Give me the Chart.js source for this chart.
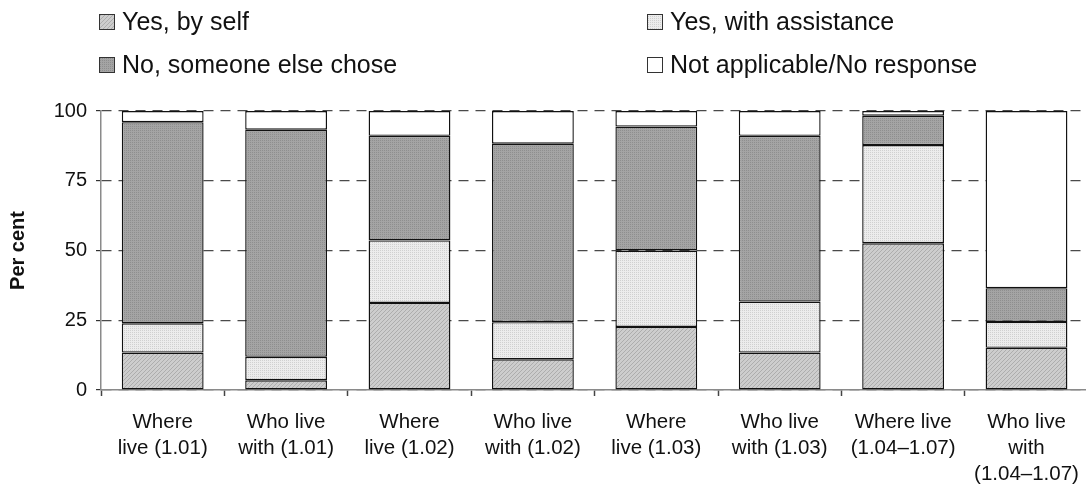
<!DOCTYPE html>
<html>
<head>
<meta charset="utf-8">
<script src="https://cdn.jsdelivr.net/npm/chart.js@4.4.1/dist/chart.umd.min.js"></script>
<style>
  html, body { margin: 0; padding: 0; background: #fff; overflow: hidden; }
  #wrap { width: 1092px; height: 485px; }
</style>
</head>
<body>
<div id="wrap"><canvas id="chart" width="1092" height="485"></canvas></div>
<script>
// Categories: each pair of bars is "where to live" and "who to live with" for one wave
const categories = [
  ['Where', 'live (1.01)'],
  ['Who live', 'with (1.01)'],
  ['Where', 'live (1.02)'],
  ['Who live', 'with (1.02)'],
  ['Where', 'live (1.03)'],
  ['Who live', 'with (1.03)'],
  ['Where live', '(1.04\u20131.07)'],
  ['Who live', 'with', '(1.04\u20131.07)']
];

// Per cent of respondents in each response group
const yesBySelf         = [13.4, 3.5, 31.2, 11.0, 22.6, 13.4, 52.6, 15.1];
const yesWithAssistance = [10.5, 8.4, 22.4, 13.3, 27.4, 18.3, 35.2,  9.3];
const noSomeoneElse     = [72.1, 81.4, 37.5, 64.0, 44.4, 59.4, 10.5, 12.1];
const notApplicable     = [ 4.0, 6.7,  8.9, 11.7,  5.6,  8.9,  1.7, 63.5];

const seriesNames = ['Yes, by self', 'Yes, with assistance', 'No, someone else chose', 'Not applicable/No response'];
const yTicks = [0, 25, 50, 75, 100];

const FONT = "'Liberation Sans', Arial, Helvetica, sans-serif";

// Small repeating tiles give the bars their fine print-style textures
function makePattern(base, ink, dots) {
  const c = document.createElement('canvas');
  c.width = 4; c.height = 4;
  const g = c.getContext('2d');
  g.fillStyle = base;
  g.fillRect(0, 0, 4, 4);
  g.fillStyle = ink;
  dots.forEach(([x, y]) => g.fillRect(x, y, 1, 1));
  return g.createPattern(c, 'repeat');
}
const hatchBySelf = makePattern('#cdcdcd', '#adadad', [[0, 3], [1, 2], [2, 1], [3, 0]]);
const dotsAssist  = makePattern('#ececec', '#d0d0d0', [[0, 0], [2, 0], [0, 2], [2, 2]]);
const dotsNo      = makePattern('#a4a4a4', '#8e8e8e', [[0, 0], [2, 0], [0, 2], [2, 2]]);

const BORDER = '#111111';

function series(label, data, fill) {
  return {
    label, data,
    backgroundColor: fill,
    borderColor: BORDER,
    borderWidth: 1.4,
    borderSkipped: false,
    inflateAmount: 0,
    barPercentage: 0.663,
    categoryPercentage: 1.0
  };
}

// Two-column legend drawn above the plot area
const gridLegend = {
  id: 'gridLegend',
  afterDraw(chart) {
    const ctx = chart.ctx;
    const slots = [[99, 14], [647, 14], [99, 57], [647, 57]];
    ctx.save();
    chart.data.datasets.forEach((ds, i) => {
      const [bx, by] = slots[i];
      ctx.fillStyle = ds.backgroundColor;
      ctx.fillRect(bx, by, 16, 16);
      ctx.lineWidth = 1;
      ctx.strokeStyle = '#333';
      ctx.strokeRect(bx + 0.5, by + 0.5, 15, 15);
      ctx.fillStyle = '#111';
      ctx.font = '25px ' + FONT;
      ctx.textAlign = 'left';
      ctx.textBaseline = 'middle';
      ctx.fillText(ds.label, bx + 23, by + 9);
    });
    ctx.restore();
  }
};

new Chart(document.getElementById('chart'), {
  type: 'bar',
  data: {
    labels: categories,
    datasets: [
      series(seriesNames[0], yesBySelf, hatchBySelf),
      series(seriesNames[1], yesWithAssistance, dotsAssist),
      series(seriesNames[2], noSomeoneElse, dotsNo),
      series(seriesNames[3], notApplicable, '#ffffff')
    ]
  },
  options: {
    responsive: false,
    animation: false,
    devicePixelRatio: 1,
    layout: { padding: { top: 111, right: 1, bottom: 0, left: 0 } },
    plugins: {
      legend: { display: false },
      tooltip: { enabled: false }
    },
    scales: {
      x: {
        stacked: true,
        offset: true,
        grid: {
          offset: true,
          drawOnChartArea: false,
          drawTicks: true,
          tickLength: 6,
          tickColor: '#444',
          tickWidth: 1.5
        },
        border: { display: true, color: '#8a8a8a', width: 1.5 },
        ticks: {
          color: '#111',
          font: { family: FONT, size: 20.5, lineHeight: 1.28 },
          maxRotation: 0,
          autoSkip: false,
          padding: 13
        },
        afterFit(scale) { scale.height = 95; }
      },
      y: {
        stacked: true,
        min: 0,
        max: 100,
        afterBuildTicks(scale) { scale.ticks = yTicks.map(v => ({ value: v })); },
        grid: {
          color: '#4a4a4a',
          lineWidth: 1.2,
          drawTicks: true,
          tickLength: 5,
          tickColor: '#333',
          tickWidth: 1.2
        },
        border: { display: true, color: '#8a8a8a', width: 1.5, dash: [10, 7] },
        ticks: {
          color: '#111',
          font: { family: FONT, size: 20 },
          padding: 9
        },
        title: {
          display: true,
          text: 'Per cent',
          color: '#111',
          font: { family: FONT, size: 20, weight: 'bold', lineHeight: 1.2 },
          padding: { top: 6, bottom: 0 }
        },
        afterFit(scale) { scale.width = 101; }
      }
    }
  },
  plugins: [gridLegend]
});
</script>
</body>
</html>
